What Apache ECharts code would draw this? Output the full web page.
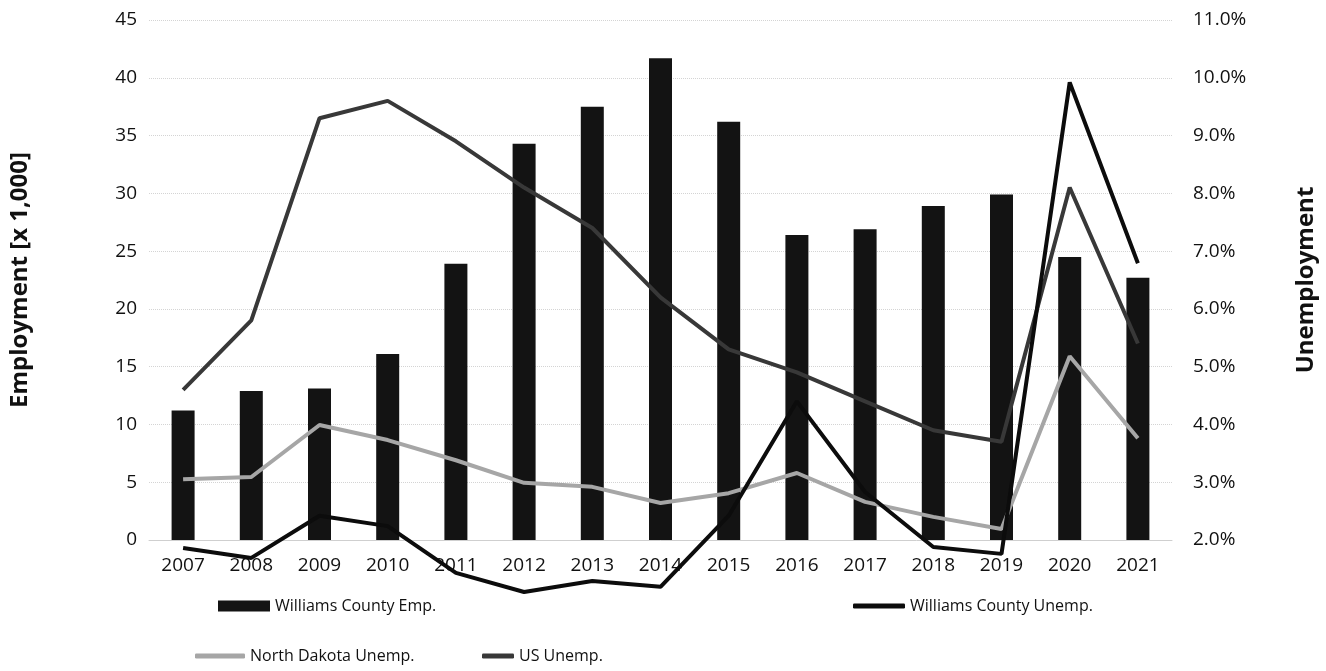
<!DOCTYPE html>
<html>
<head>
<meta charset="utf-8">
<script src="https://cdn.jsdelivr.net/npm/echarts@6/dist/echarts.min.js"></script>
<style>
  html, body { margin: 0; padding: 0; background: #fff; }
  #chart { width: 1326px; height: 671px; }
</style>
</head>
<body>
<div id="chart"></div>
<script>
// Williams County, ND: employment (thousands) and unemployment rates
const years = ['2007','2008','2009','2010','2011','2012','2013','2014','2015','2016','2017','2018','2019','2020','2021'];
const williamsEmp = [11.2, 12.9, 13.1, 16.1, 23.9, 34.3, 37.5, 41.7, 36.2, 26.4, 26.9, 28.9, 29.9, 24.5, 22.7];
const williamsUnemp = [1.86, 1.69, 2.42, 2.24, 1.43, 1.10, 1.29, 1.19, 2.42, 4.40, 2.83, 1.88, 1.76, 9.92, 6.79];
const ndUnemp = [3.05, 3.09, 3.99, 3.73, 3.38, 2.99, 2.92, 2.64, 2.81, 3.16, 2.66, 2.40, 2.19, 5.18, 3.76];
const usUnemp = [4.6, 5.8, 9.3, 9.6, 8.9, 8.1, 7.4, 6.2, 5.3, 4.9, 4.4, 3.9, 3.7, 8.1, 5.4];
const empTicks = { min: 0, max: 45, interval: 5 };
const rateTicks = { min: 2, max: 11, interval: 1 };

const FONT = '"Open Sans", "Noto Sans", sans-serif';
const chart = echarts.init(document.getElementById('chart'));

const legendText = { fontFamily: FONT, fontSize: 16, color: '#111' };
const tickText = { fontFamily: FONT, fontSize: 19, color: '#111' };
const nameText = { fontFamily: FONT, fontSize: 24, fontWeight: 'bold', color: '#111' };

chart.setOption({
  animation: false,
  grid: { left: 140, right: 149, top: 20, bottom: 131 },
  legend: [
    { data: ['Williams County Emp.'], left: 213, top: 593, itemWidth: 52, itemHeight: 11, icon: 'rect', textStyle: legendText },
    { data: ['Williams County Unemp.'], left: 848, top: 593, itemWidth: 52, itemHeight: 5, icon: 'roundRect', textStyle: legendText },
    { data: ['North Dakota Unemp.'], left: 190, top: 643, itemWidth: 50, itemHeight: 5, icon: 'roundRect', textStyle: legendText },
    { data: ['US Unemp.'], left: 477, top: 643, itemWidth: 32, itemHeight: 5, icon: 'roundRect', textStyle: legendText }
  ],
  xAxis: {
    type: 'category',
    data: years,
    axisLine: { show: true, lineStyle: { color: '#cfcfcf', width: 1 } },
    axisTick: { show: false },
    axisLabel: Object.assign({ margin: 16 }, tickText)
  },
  yAxis: [
    {
      type: 'value',
      min: empTicks.min, max: empTicks.max, interval: empTicks.interval,
      name: 'Employment [x 1,000]',
      nameLocation: 'middle',
      nameGap: 117,
      nameRotate: 90,
      nameTextStyle: nameText,
      axisLine: { show: false },
      axisTick: { show: false },
      axisLabel: Object.assign({ margin: 12 }, tickText),
      splitLine: { show: true, lineStyle: { color: '#d4d4d4', type: 'dotted', width: 1 } }
    },
    {
      type: 'value',
      position: 'right',
      min: rateTicks.min, max: rateTicks.max, interval: rateTicks.interval,
      name: 'Unemployment',
      nameLocation: 'middle',
      nameGap: 122,
      nameRotate: 90,
      nameTextStyle: nameText,
      axisLine: { show: false },
      axisTick: { show: false },
      axisLabel: Object.assign({ margin: 21, formatter: v => v.toFixed(1) + '%' }, tickText),
      splitLine: { show: false }
    }
  ],
  series: [
    {
      name: 'Williams County Emp.',
      type: 'bar',
      data: williamsEmp,
      barWidth: 23,
      itemStyle: { color: '#131313' },
      z: 1
    },
    {
      name: 'Williams County Unemp.',
      type: 'line',
      yAxisIndex: 1,
      data: williamsUnemp,
      symbol: 'none',
      clip: false,
      lineStyle: { color: '#0c0c0c', width: 4 },
      itemStyle: { color: '#0c0c0c' },
      z: 4
    },
    {
      name: 'North Dakota Unemp.',
      type: 'line',
      yAxisIndex: 1,
      data: ndUnemp,
      symbol: 'none',
      clip: false,
      lineStyle: { color: '#a6a6a6', width: 4 },
      itemStyle: { color: '#a6a6a6' },
      z: 3
    },
    {
      name: 'US Unemp.',
      type: 'line',
      yAxisIndex: 1,
      data: usUnemp,
      symbol: 'none',
      clip: false,
      lineStyle: { color: '#383838', width: 4 },
      itemStyle: { color: '#383838' },
      z: 3
    }
  ]
});
</script>
</body>
</html>
